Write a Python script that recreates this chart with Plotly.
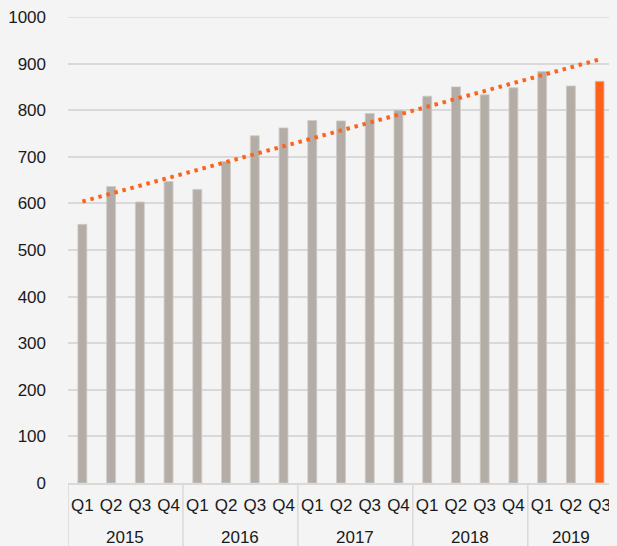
import numpy as np
import plotly.graph_objects as go

years = ["2015"] * 4 + ["2016"] * 4 + ["2017"] * 4 + ["2018"] * 4 + ["2019"] * 3
quarters = ["Q1", "Q2", "Q3", "Q4"] * 4 + ["Q1", "Q2", "Q3"]
values = [555, 636, 603, 647, 630, 690, 745, 762, 778, 777, 793, 800,
          830, 850, 833, 848, 883, 852, 862]
y_ticks = [0, 100, 200, 300, 400, 500, 600, 700, 800, 900, 1000]

GRAY = "#B4ADA7"
ORANGE = "#FF6319"
BG = "#F4F4F4"
GRID = "#D9D9D9"

n = len(values)
xpos = list(range(n))
colors = [GRAY] * (n - 1) + [ORANGE]

# linear trend (least squares) over the quarters
idx = np.arange(n)
slope, intercept = np.polyfit(idx, values, 1)
trend = slope * idx + intercept

fig = go.Figure()
fig.add_trace(go.Bar(
    x=xpos, y=values,
    marker=dict(color=colors, line=dict(color="#CFC9C4", width=0.8)),
    width=0.31, hoverinfo="y",
))
fig.add_trace(go.Scatter(
    x=xpos, y=trend, mode="lines",
    line=dict(color=ORANGE, width=4, dash="3.5px,4.8px"),
    hoverinfo="skip",
))

# year group labels and dividers
groups = []
for i, yr in enumerate(years):
    if not groups or groups[-1][0] != yr:
        groups.append([yr, i, i])
    else:
        groups[-1][2] = i

for yr, a, b in groups:
    fig.add_annotation(
        x=(a + b) / 2, y=-0.118, xref="x", yref="paper", text=yr,
        showarrow=False, yanchor="middle",
        font=dict(size=17, color="#1a1a1a"),
    )
    fig.add_shape(type="line", xref="x", yref="paper", x0=a - 0.5, x1=a - 0.5,
                  y0=0, y1=-0.2, line=dict(color=GRID, width=1.5))
last = groups[-1][2]
fig.add_shape(type="line", xref="x", yref="paper", x0=last + 0.5, x1=last + 0.5,
              y0=0, y1=-0.2, line=dict(color=GRID, width=1.5))

# top gridline (at the edge of the range, which plotly skips)
fig.add_shape(type="line", xref="paper", yref="y", x0=0, x1=1,
              y0=y_ticks[-1], y1=y_ticks[-1], line=dict(color=GRID, width=1.5),
              layer="below")

# page body adds an 8px offset; size the figure so the visible area matches
fig.update_layout(
    width=609, height=538,
    margin=dict(l=60, r=3, t=9, b=63, autoexpand=False),
    paper_bgcolor=BG, plot_bgcolor=BG,
    showlegend=False,
    font=dict(family="Liberation Sans, Arial, sans-serif", size=17, color="#1a1a1a"),
)
fig.update_yaxes(
    range=[0, 1000], tickvals=y_ticks, showgrid=True, gridcolor=GRID,
    gridwidth=1.5, zeroline=False, showline=False, ticks="",
    ticklabelstandoff=21, ticklabeloverflow="allow", automargin=False,
)
fig.update_xaxes(
    range=[-0.5, n - 0.5], tickvals=xpos, ticktext=quarters,
    showline=True, linecolor=GRID, linewidth=1.5,
    tickangle=0, ticks="", showgrid=False, zeroline=False,
    ticklabelstandoff=6, ticklabeloverflow="allow", automargin=False,
)

fig.write_html(
    "out.html",
    post_script=(
        "document.body.style.background='" + BG + "';"
        "document.documentElement.style.background='" + BG + "';"
        "document.body.style.overflow='hidden';"
    ),
)
